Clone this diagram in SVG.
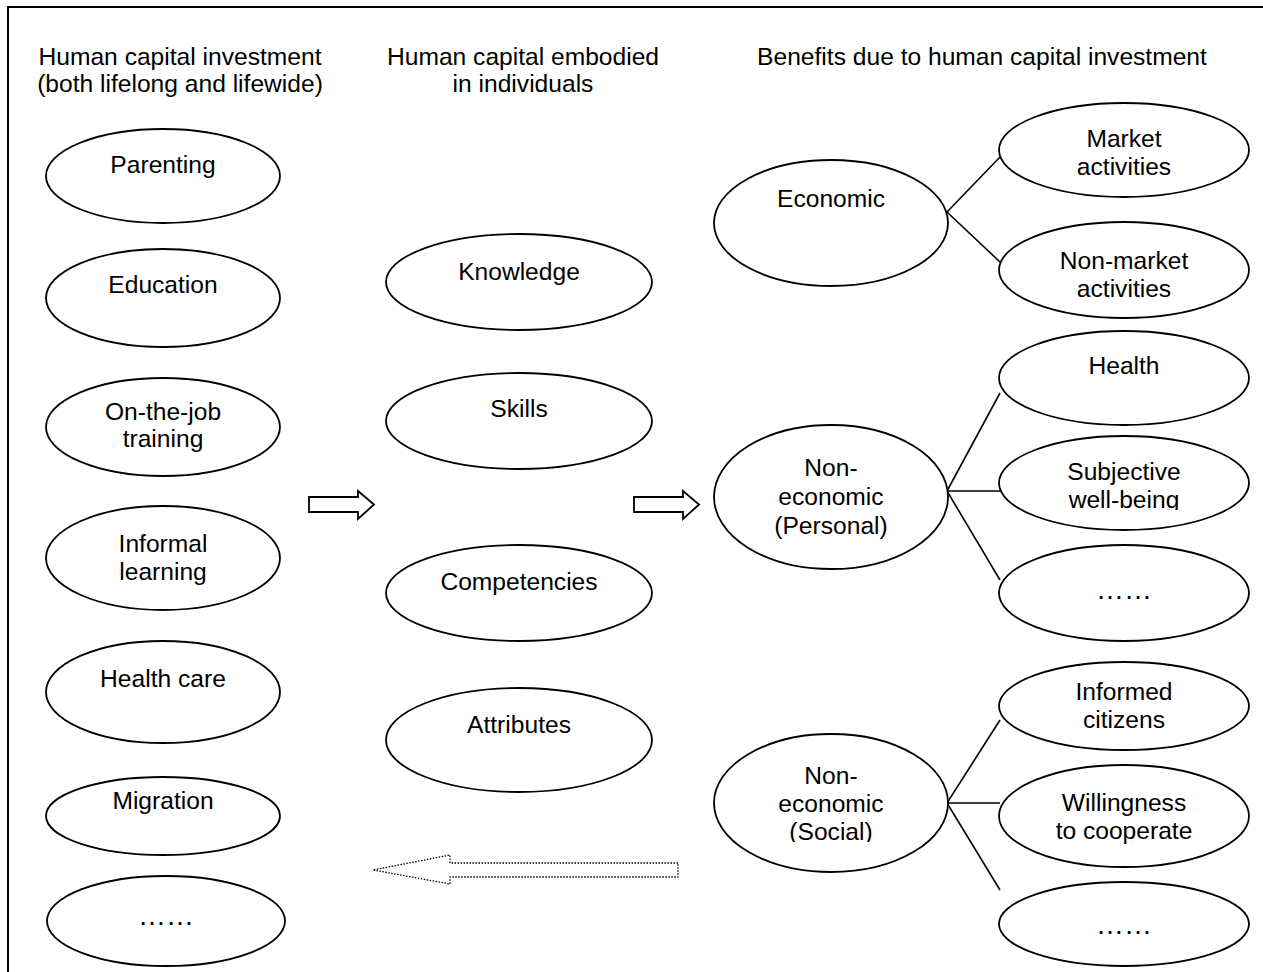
<svg xmlns="http://www.w3.org/2000/svg" width="1263" height="972" viewBox="0 0 1263 972">
<style>
.n ellipse{fill:#fff;stroke:#000;stroke-width:1.8}
text{font-family:"Liberation Sans",Arial,sans-serif;font-size:24.6px;fill:#000;text-anchor:middle}
.c line{stroke:#000;stroke-width:1.6}
.dots{font-size:28px}
</style>
<defs>
<clipPath id="clipWB"><rect x="990" y="430" width="270" height="80"/></clipPath>
<clipPath id="clipSo"><rect x="700" y="810" width="260" height="32"/></clipPath>
</defs>
<rect x="0" y="0" width="1263" height="972" fill="#fff"/>
<path d="M8 972 V7 H1263" fill="none" stroke="#000" stroke-width="2"/>

<g id="titles">
<text x="180" y="65">Human capital investment</text>
<text x="180" y="92">(both lifelong and lifewide)</text>
<text x="523" y="65">Human capital embodied</text>
<text x="523" y="92">in individuals</text>
<text x="982" y="65">Benefits due to human capital investment</text>
</g>

<g class="c" id="connectors">
<line x1="947" y1="212" x2="1000" y2="157"/>
<line x1="947" y1="212" x2="1000" y2="262"/>
<line x1="947" y1="491" x2="1000" y2="393"/>
<line x1="947" y1="491" x2="1000" y2="491"/>
<line x1="947" y1="491" x2="1000" y2="580"/>
<line x1="947" y1="803" x2="1000" y2="720"/>
<line x1="947" y1="803" x2="1000" y2="803"/>
<line x1="947" y1="803" x2="1000" y2="890"/>
</g>

<g id="arrows">
<path d="M309 497 H358 V491 L374 504.5 L358 519 V512 H309 Z" fill="#fff" stroke="#000" stroke-width="1.8"/>
<path d="M634 497 H683 V491 L699 504.5 L683 519 V512 H634 Z" fill="#fff" stroke="#000" stroke-width="1.8"/>
<path d="M678 863 H450 V855 L373 870 L450 884 V877 H678 Z" fill="#fff" stroke="#000" stroke-width="1.3" stroke-dasharray="1.5 1.5"/>
</g>

<g class="n" id="n-parenting"><ellipse cx="163" cy="176" rx="117" ry="47"/><text x="163" y="173">Parenting</text></g>
<g class="n" id="n-education"><ellipse cx="163" cy="298" rx="117" ry="49"/><text x="163" y="293">Education</text></g>
<g class="n" id="n-onjob"><ellipse cx="163" cy="427" rx="117" ry="49"/><text x="163" y="420">On-the-job</text><text x="163" y="447">training</text></g>
<g class="n" id="n-informal"><ellipse cx="163" cy="558" rx="117" ry="52"/><text x="163" y="552">Informal</text><text x="163" y="580">learning</text></g>
<g class="n" id="n-health-care"><ellipse cx="163" cy="692" rx="117" ry="51"/><text x="163" y="687">Health care</text></g>
<g class="n" id="n-migration"><ellipse cx="163" cy="816" rx="117" ry="39"/><text x="163" y="809">Migration</text></g>
<g class="n" id="n-left-more"><ellipse cx="166" cy="921" rx="119" ry="45"/><text class="dots" x="166" y="925">……</text></g>

<g class="n" id="n-knowledge"><ellipse cx="519" cy="282" rx="133" ry="48"/><text x="519" y="280">Knowledge</text></g>
<g class="n" id="n-skills"><ellipse cx="519" cy="421" rx="133" ry="48"/><text x="519" y="417">Skills</text></g>
<g class="n" id="n-competencies"><ellipse cx="519" cy="593" rx="133" ry="48"/><text x="519" y="590">Competencies</text></g>
<g class="n" id="n-attributes"><ellipse cx="519" cy="740" rx="133" ry="52"/><text x="519" y="733">Attributes</text></g>

<g class="n" id="n-economic"><ellipse cx="831" cy="223" rx="117" ry="63"/><text x="831" y="207">Economic</text></g>
<g class="n" id="n-personal"><ellipse cx="831" cy="497" rx="117" ry="72"/><text x="831" y="476">Non-</text><text x="831" y="505">economic</text><text x="831" y="534">(Personal)</text></g>
<g class="n" id="n-social"><ellipse cx="831" cy="803" rx="117" ry="69"/><text x="831" y="784">Non-</text><text x="831" y="812">economic</text><text x="831" y="840" clip-path="url(#clipSo)">(Social)</text></g>

<g class="n" id="n-market"><ellipse cx="1124" cy="150" rx="125" ry="47"/><text x="1124" y="147">Market</text><text x="1124" y="175">activities</text></g>
<g class="n" id="n-nonmarket"><ellipse cx="1124" cy="270" rx="125" ry="48"/><text x="1124" y="269">Non-market</text><text x="1124" y="297">activities</text></g>
<g class="n" id="n-health"><ellipse cx="1124" cy="378" rx="125" ry="47"/><text x="1124" y="374">Health</text></g>
<g class="n" id="n-subjective"><ellipse cx="1124" cy="483" rx="125" ry="47"/><text x="1124" y="480">Subjective</text><text x="1124" y="508" clip-path="url(#clipWB)">well-being</text></g>
<g class="n" id="n-personal-more"><ellipse cx="1124" cy="593" rx="125" ry="48"/><text class="dots" x="1124" y="599">……</text></g>
<g class="n" id="n-informed"><ellipse cx="1124" cy="706" rx="125" ry="44"/><text x="1124" y="700">Informed</text><text x="1124" y="728">citizens</text></g>
<g class="n" id="n-willingness"><ellipse cx="1124" cy="816" rx="125" ry="51"/><text x="1124" y="811">Willingness</text><text x="1124" y="839">to cooperate</text></g>
<g class="n" id="n-social-more"><ellipse cx="1124" cy="924" rx="125" ry="42"/><text class="dots" x="1124" y="934">……</text></g>
</svg>
